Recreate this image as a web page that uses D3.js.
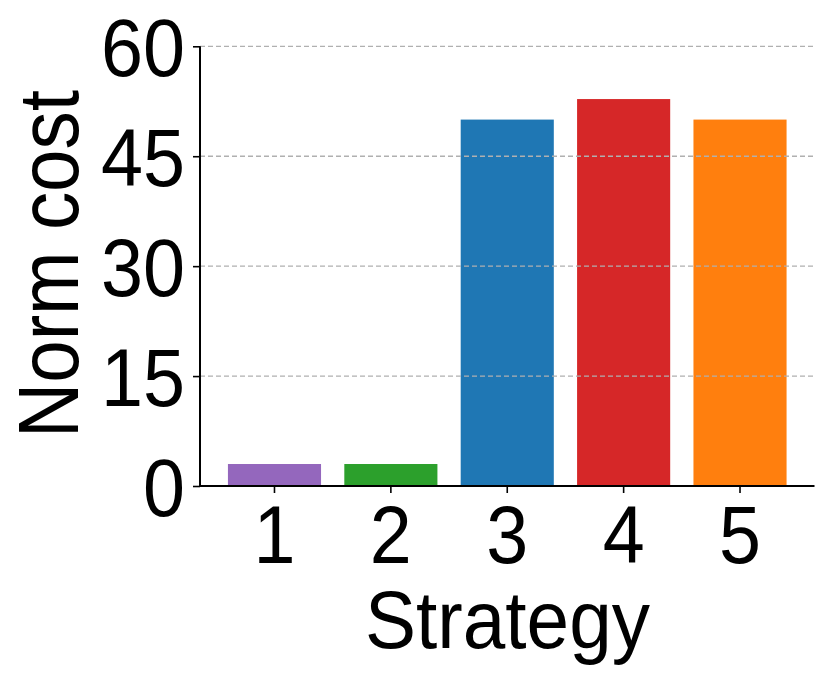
<!DOCTYPE html>
<html>
<head>
<meta charset="utf-8">
<script src="https://cdn.jsdelivr.net/npm/d3@7"></script>
<style>
  body { margin: 0; background: #fff; }
  text { font-family: "Liberation Sans", Arial, sans-serif; fill: #000; }
</style>
</head>
<body>
<script>
var strategies = [1, 2, 3, 4, 5];
var costs = [3.0, 3.0, 50.0, 52.8, 50.0];
var colors = ["#9467bd", "#2ca02c", "#1f77b4", "#d62728", "#ff7f0e"];
var yTicks = [0, 15, 30, 45, 60];

var svg = d3.select("body")
  .append("svg")
    .attr("width", 831)
    .attr("height", 682);

var x = d3.scaleBand()
    .domain(strategies)
    .range([200, 814.5])
    .paddingInner(0.2)
    .paddingOuter(0.24);

var y = d3.scaleLinear()
    .domain([0, 60])
    .range([486, 46.3]);

// bars
svg.selectAll("rect.bar")
    .data(costs)
  .enter().append("rect")
    .attr("class", "bar")
    .attr("x", function(d, i) { return x(strategies[i]); })
    .attr("y", function(d) { return y(d); })
    .attr("width", x.bandwidth())
    .attr("height", function(d) { return y(0) - y(d); })
    .style("fill", function(d, i) { return colors[i]; });

// dashed grid, drawn over the bars
svg.selectAll("line.grid")
    .data(yTicks.slice(1))
  .enter().append("line")
    .attr("x1", 200)
    .attr("x2", 814.5)
    .attr("y1", function(d) { return y(d); })
    .attr("y2", function(d) { return y(d); })
    .attr("stroke", "#b0b0b0")
    .attr("stroke-width", 1.3)
    .attr("stroke-dasharray", "5,3");

// left axis
var yAxis = svg.append("g")
    .attr("transform", "translate(200,0)")
    .call(d3.axisLeft(y).tickValues(yTicks).tickSize(7).tickPadding(11));

// bottom axis
var xAxis = svg.append("g")
    .attr("transform", "translate(0,486)")
    .call(d3.axisBottom(x).tickSize(7).tickPadding(12));

[yAxis, xAxis].forEach(function(g) {
  g.select(".domain").attr("stroke", "#000").attr("stroke-width", 2);
  g.selectAll(".tick line").attr("stroke", "#000").attr("stroke-width", 1.6);
  g.selectAll(".tick text")
      .style("font-size", "81px")
      .style("font-family", "'Liberation Sans', Arial, sans-serif")
      .attr("fill", "#000");
});
yAxis.select(".domain").attr("d", "M0," + y(60) + "V" + y(0));
xAxis.select(".domain").attr("d", "M200,0H814.5");

// narrower digits, closer to the reference face
yAxis.selectAll(".tick text")
    .attr("dy", "0.36em")
    .attr("x", -15)
    .attr("textLength", function(d) { return String(d).length * 42; })
    .attr("lengthAdjust", "spacingAndGlyphs");
xAxis.selectAll(".tick text")
    .attr("dy", "0.72em")
    .attr("textLength", 42)
    .attr("lengthAdjust", "spacingAndGlyphs");

// axis titles
svg.append("text")
    .attr("x", 507.5)
    .attr("y", 648)
    .attr("text-anchor", "middle")
    .attr("textLength", 285)
    .attr("lengthAdjust", "spacingAndGlyphs")
    .style("font-size", "81px")
    .text("Strategy");

svg.append("text")
    .attr("transform", "translate(78,264) rotate(-90)")
    .attr("text-anchor", "middle")
    .attr("textLength", 348)
    .attr("lengthAdjust", "spacingAndGlyphs")
    .style("font-size", "86px")
    .text("Norm cost");
</script>
</body>
</html>
